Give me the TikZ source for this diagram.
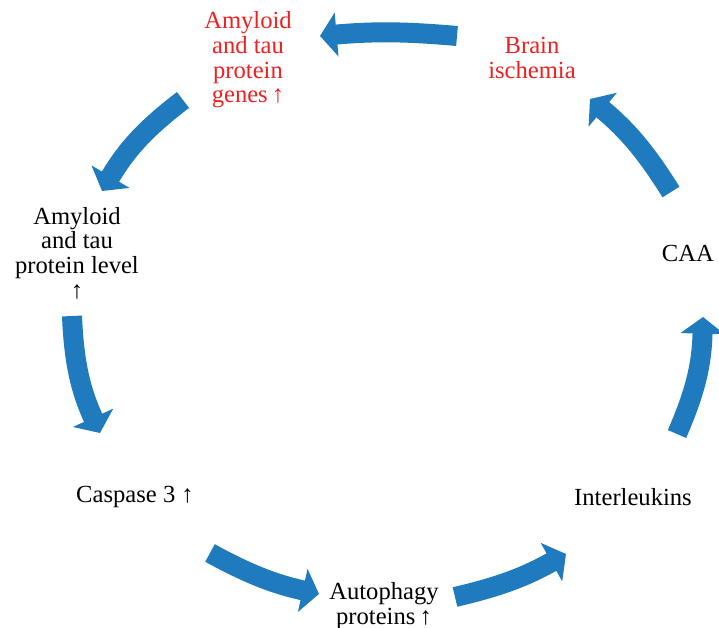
\documentclass[tikz,border=0pt]{standalone}
\usepackage{fontspec}
\setmainfont{Liberation Serif}
\usetikzlibrary{arrows.meta}

\definecolor{cycle blue}{RGB}{31,123,190}
\definecolor{cycle red}{RGB}{238,32,32}

\tikzset{
	step text/.style={align=center,font=\fontsize{21}{21}\selectfont,text=black},
	raised text/.style={step text,text=cycle red},
	block arrow/.style={draw=cycle blue,line width=0.6cm,-{Triangle[width=1.3cm,length=0.5cm]}},
}

\begin{document}
\begin{tikzpicture}[x=0.03cm,y=-0.03cm]
	\useasboundingbox (0,0) rectangle (719,628);

	\node (brain)        [raised text] at (532,58)  {Brain\\ischemia};
	\node (genes)        [raised text] at (248,60)  {Amyloid\\and tau\\protein\\genes\,↑};
	\node (level)        [step text]   at (77,253)  {Amyloid\\and tau\\protein level\\↑};
	\node (caspase)      [step text]   at (135,497) {Caspase 3 ↑};
	\node (autophagy)    [step text]   at (384,606) {Autophagy\\proteins\,↑};
	\node (interleukins) [step text]   at (633,497) {Interleukins};
	\node (caa)          [step text,anchor=east] at (718,253) {CAA};

	\coordinate (brain tail)        at (457,36);
	\coordinate (genes head)        at (320,36);
	\coordinate (genes tail)        at (183,100);
	\coordinate (level head)        at (102,191);
	\coordinate (level tail)        at (72,316);
	\coordinate (caspase head)      at (100,433);
	\coordinate (caspase tail)      at (210,553);
	\coordinate (autophagy head)    at (319,594);
	\coordinate (autophagy tail)    at (455,597);
	\coordinate (interleukins head) at (566,554);
	\coordinate (interleukins tail) at (677,434);
	\coordinate (caa head)          at (703,317);
	\coordinate (caa tail)          at (671,192);
	\coordinate (brain head)        at (590,99);

	\draw[block arrow] (brain tail) to[bend right=5] (genes head);
	\draw[block arrow] (genes tail) to[bend right=11] (level head);
	\draw[block arrow] (level tail) to[bend right=11] (caspase head);
	\draw[block arrow] (caspase tail) to[bend right=8] (autophagy head);
	\draw[block arrow] (autophagy tail) to[bend right=8] (interleukins head);
	\draw[block arrow] (interleukins tail) to[bend right=11] (caa head);
	\draw[block arrow] (caa tail) to[bend right=9] (brain head);

\end{tikzpicture}
\end{document}
